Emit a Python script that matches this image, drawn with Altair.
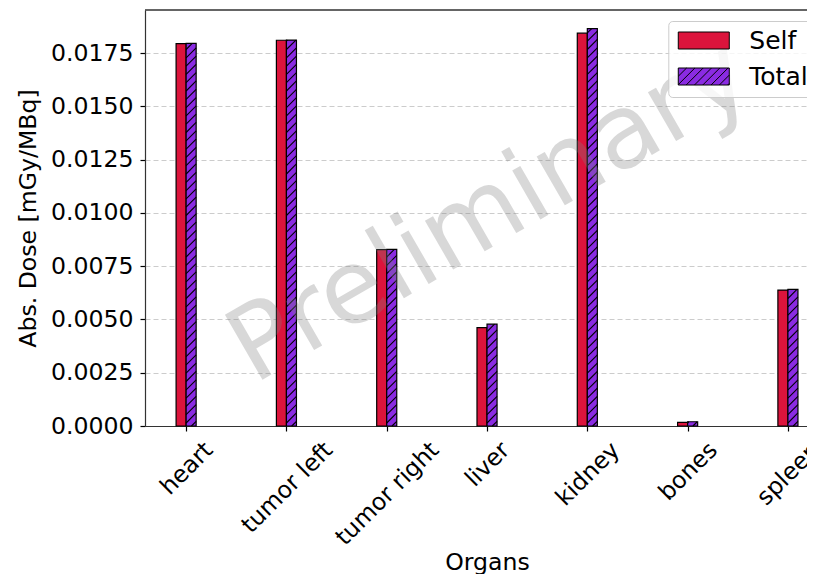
import altair as alt
import numpy as np
import pandas as pd

# ---------------- data ----------------
organs = ["heart", "tumor left", "tumor right", "liver", "kidney", "bones", "spleen"]
self_dose = [0.01795, 0.01811, 0.00828, 0.00462, 0.01844, 0.00017, 0.00638]
total_dose = [0.01796, 0.01812, 0.00829, 0.00478, 0.01866, 0.00020, 0.00641]
y_ticks = [0.0, 0.0025, 0.005, 0.0075, 0.01, 0.0125, 0.015, 0.0175]
series = ["Self", "Total"]
colors = ["#DC143C", "#8A2BE2"]
watermark = ["Preliminary"]

# ---------------- layout ----------------
W, H = 662, 416
BAR_W = 0.1
X_MIN = -0.41
PX_PER_CAT = 100.3
X_MAX = X_MIN + W / PX_PER_CAT
Y_MAX = 0.01953
PX_PER_Y = H / Y_MAX
FONT = "DejaVu Sans"
FS = 23.6
LEG_FS = 25

# DejaVu Sans advance widths (units / 2048) for label placement
ADV = {'a': 1255, 'b': 1300, 'd': 1300, 'e': 1260, 'f': 721, 'g': 1300, 'h': 1298,
       'i': 569, 'k': 1186, 'l': 569, 'm': 1995, 'n': 1298, 'o': 1253, 'p': 1300,
       'r': 842, 's': 1067, 't': 803, 'u': 1298, 'v': 1212, 'y': 1212, ' ': 651}


def text_w(s, fs):
    return sum(ADV.get(ch, 1200) for ch in s) / 2048 * fs


idx = np.arange(len(organs))
self_df = pd.DataFrame({"organ": organs, "x": idx - BAR_W, "x2": idx.astype(float),
                        "v": self_dose, "z": 0.0})
total_df = pd.DataFrame({"organ": organs, "x": idx.astype(float), "x2": idx + BAR_W,
                         "v": total_dose, "z": 0.0})

# hatch segments for the Total bars ('///')
HATCH = 8.3
w_px = BAR_W * PX_PER_CAT
segs = []
for i, v in enumerate(total_dose):
    h_px = v * PX_PER_Y
    k0 = int(np.floor(-w_px / HATCH))
    k1 = int(np.ceil(h_px / HATCH)) + 1
    for k in range(k0, k1):
        c = k * HATCH + 3.0
        u0 = max(0.0, -c)
        u1 = min(w_px, h_px - c)
        if u1 - u0 > 0.4:
            segs.append(dict(x=i + u0 / PX_PER_CAT, x2=i + u1 / PX_PER_CAT,
                             v=(u0 + c) / PX_PER_Y, y2=(u1 + c) / PX_PER_Y))
hatch_df = pd.DataFrame(segs)

# rotated tick labels (matplotlib-like: rotated box centred on tick)
lab_df = pd.DataFrame({
    "organ": organs,
    "x": [i + (0.354 * text_w(o, FS) + 0.244 * FS) / PX_PER_CAT for i, o in enumerate(organs)],
})

wm_df = pd.DataFrame({"t": watermark, "x": [float(np.mean(idx)) + 0.03], "v": [Y_MAX * 0.513]})

# legend symbol paths (unit = 8.5 px)
path_self = "M-1.12,-1H4.88V1H-1.12Z"
hp = [path_self]
step = 8.3 / 8.5
c = -3.12
while c < 4.88:
    xa, ya = c, 1.0
    xb, yb = c + 2, -1.0
    if xa < -1.12:
        ya = 1 - (-1.12 - c)
        xa = -1.12
    if xb > 4.88:
        yb = 1 - (4.88 - c)
        xb = 4.88
    if xb - xa > 0.05:
        hp.append(f"M{xa:.3f},{ya:.3f}L{xb:.3f},{yb:.3f}")
    c += step
path_total = "".join(hp)
leg_df = pd.DataFrame({"series": series})

# ---------------- chart ----------------
xscale = alt.Scale(domain=[X_MIN, X_MAX], nice=False, zero=False)
yscale = alt.Scale(domain=[0, Y_MAX], nice=False, zero=False)

x_axis = alt.Axis(values=list(range(len(organs))), labels=False, ticks=True, tickSize=5,
                  tickColor="black", tickWidth=1.2, domain=True, domainColor="#333333",
                  domainWidth=1.2, grid=False, title="Organs",
                  titleX=342, titleY=143, titleAlign="center", titleBaseline="alphabetic")
y_axis = alt.Axis(values=y_ticks, format=".4f", labelPadding=7, tickSize=5,
                  tickColor="black", tickWidth=1.2, domainColor="#333333", domainWidth=1.2,
                  grid=True, gridColor="#cccccc", gridDash=[5, 3], gridWidth=1,
                  title="Abs. Dose [mGy/MBq]", titleX=-110, titleY=208,
                  titleAngle=270, titleAlign="center", titleBaseline="alphabetic")

X = alt.X("x:Q", scale=xscale, axis=x_axis)
Y = alt.Y("v:Q", scale=yscale, axis=y_axis)

self_bars = alt.Chart(self_df).mark_rect(fill=colors[0], stroke="black", strokeWidth=1.2).encode(
    x=X, x2="x2:Q", y=Y, y2="z:Q",
)
total_bars = alt.Chart(total_df).mark_rect(fill=colors[1], stroke="black", strokeWidth=1.2).encode(
    x=X, x2="x2:Q", y=Y, y2="z:Q",
)
hatch = alt.Chart(hatch_df).mark_rule(color="black", strokeWidth=1.1, strokeCap="butt").encode(
    x=X, x2="x2:Q", y=Y, y2="y2:Q",
)
top_spine = alt.Chart(leg_df).mark_rule(color="#333333", strokeWidth=1.2).encode(
    x=alt.value(0), x2=alt.value(W), y=alt.value(0)
)
wm = alt.Chart(wm_df).mark_text(font=FONT, fontSize=103, angle=330, align="center",
                                 baseline="middle", color="gray", opacity=0.3).encode(
    x=X, y=Y, text="t:N",
)
labels = alt.Chart(lab_df).mark_text(font=FONT, fontSize=FS, angle=315, align="right",
                                     baseline="alphabetic", color="black", clip=False).encode(
    x=X, y=alt.value(H + 25.5), text="organ:N",
)
leg = alt.Legend(title=None, orient="none", legendX=523.3, legendY=11, symbolSize=289,
                 symbolStrokeWidth=1, symbolOpacity=1,
                 labelFont=FONT, labelFontSize=LEG_FS, labelColor="black", labelOffset=49,
                 rowPadding=10, padding=7, strokeColor="#cccccc",
                 fillColor="rgba(255,255,255,0.8)", cornerRadius=4)
legend_layer = alt.Chart(leg_df).mark_point(filled=True, clip=True, stroke="black",
                                            strokeWidth=1, opacity=1).encode(
    x=alt.value(-100),
    y=alt.value(-100),
    fill=alt.Fill("series:N", scale=alt.Scale(domain=series, range=colors), legend=leg),
    shape=alt.Shape("series:N", scale=alt.Scale(domain=series, range=[path_self, path_total]),
                    legend=leg),
)

chart = alt.layer(self_bars, total_bars, hatch, top_spine, wm, labels, legend_layer).properties(
    width=W, height=H,
    autosize=alt.AutoSizeParams(type="none"),
    padding={"left": 137, "top": 2, "right": 0, "bottom": 148},
    background="white",
).configure_view(stroke=None).configure_axis(
    labelFont=FONT, labelFontSize=FS, labelColor="black",
    titleFont=FONT, titleFontSize=FS, titleFontWeight="normal", titleColor="black",
)

chart.save("out.html", embed_options={"renderer": "svg", "actions": False})
